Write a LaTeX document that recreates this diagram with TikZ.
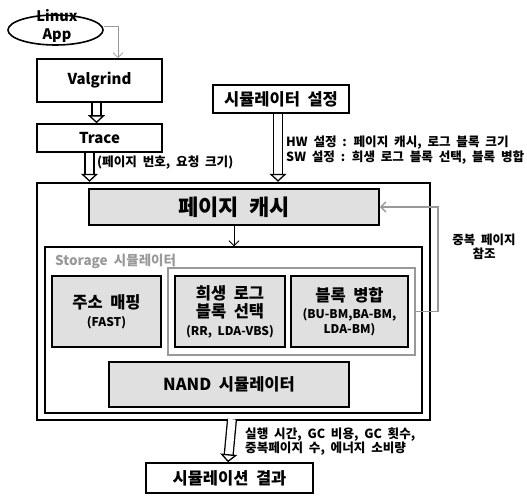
\documentclass[tikz,border=0pt]{standalone}
\usepackage{fontspec}
\setmainfont{Noto Sans CJK KR}[WordSpace=2]
\usepackage{tikz}
\usetikzlibrary{
    arrows.meta,
    shapes.geometric
}
\definecolor{boxgray}{HTML}{E0E0E0}
\definecolor{linegray}{HTML}{999999}

\begin{document}
\begin{tikzpicture}[
        x=1pt, y=-1pt,
        >={Straight Barb[length=5pt, width=10pt]},
        box/.style={
            rectangle,
            draw,
            line width=1.6pt,
            inner sep=0pt,
            align=center,
            font=\bfseries\fontsize{16.5}{18}\selectfont
        },
        graybox/.style={
            box,
            fill=boxgray
        },
        latin/.style={
            font=\bfseries\fontsize{15}{18}\selectfont
        },
        dblarrow/.style={
            double,
            double distance=7.5pt,
            line width=1.3pt,
            -{Triangle[open, width=17pt, length=8pt, fill=white, line width=1.3pt]}
        },
        note/.style={
            anchor=west,
            align=left,
            inner sep=0pt,
            font=\bfseries\fontsize{12.6}{12}\selectfont
        }
    ]
        \useasboundingbox (0,0) rectangle (527,495);

        \node[ellipse, draw, line width=1.6pt, minimum width=95pt, minimum height=30pt, inner sep=0pt] (app) at (55.5,30) {};
        \node[align=center, inner sep=0pt, font=\bfseries\fontsize{14.5}{18}\selectfont] (apptext) at (57,26) {Linux\\App};

        \node[box, latin, minimum width=125pt, minimum height=43pt] (valg) at (99.5,80.5) {Valgrind};
        \node[box, latin, minimum width=125pt, minimum height=28pt] (trace) at (99.5,138) {Trace};
        \node[box, minimum width=136pt, minimum height=28pt] (setting) at (281,99) {시뮬레이터 설정};

        \node[box, line width=2.4pt, minimum width=393pt, minimum height=237pt] (sim) at (233.5,301.5) {};
        \node[graybox, minimum width=290pt, minimum height=36pt, font=\bfseries\fontsize{22}{24}\selectfont] (cache) at (234,207) {페이지 캐시};
        \node[box, line width=1.4pt, minimum width=377pt, minimum height=166pt] (storage) at (233.5,330) {};
        \node[anchor=west, inner sep=0pt, text=linegray, font=\bfseries\fontsize{13.5}{15}\selectfont] (storagelabel) at (55,261) {Storage 시뮬레이터};
        \node[draw=linegray, line width=1.6pt, minimum width=247pt, minimum height=87pt] (grp) at (291.5,311.5) {};

        \node[graybox, minimum width=109pt, minimum height=71pt] (addr) at (106.5,311.5) {주소 매핑\\{\fontsize{12}{14}\selectfont (FAST)}};
        \node[graybox, minimum width=110pt, minimum height=71pt] (victim) at (230,311.5) {희생 로그\\블록 선택\\{\fontsize{12}{14}\selectfont (RR, LDA-VBS)}};
        \node[graybox, minimum width=117pt, minimum height=71pt] (merge) at (349.5,311.5) {블록 병합\\[-1pt]{\fontsize{12}{14}\selectfont (BU-BM,BA-BM,}\\[-3pt]{\fontsize{12}{14}\selectfont LDA-BM)}};
        \node[graybox, minimum width=240pt, minimum height=45pt] (nand) at (229,384.5) {NAND 시뮬레이터};

        \node[box, minimum width=167pt, minimum height=30pt] (result) at (229.5,478) {시뮬레이션 결과};

        \draw[->, linegray, thick] (app.east |- 0,26) -| ([xshift=18.5pt]valg.north);
        \draw[dblarrow] ([xshift=-3pt]valg.south) -- ([xshift=-3pt]trace.north);
        \draw[dblarrow] ([xshift=-10pt]trace.south) -- ([xshift=-10pt]trace.south |- sim.north);
        \draw[dblarrow] ([xshift=-3pt]setting.south) -- ([xshift=-3pt]setting.south |- sim.north);
        \draw[->, thick] (cache.south) -- (cache.south |- storage.north);
        \draw[->, linegray, line width=1.4pt] (grp.east) -- ++(22,0) |- (cache.east);
        \draw[dblarrow] ([xshift=-1.5pt]sim.south |- result.north) ++(0,-43) -- ([xshift=-1.5pt]result.north);

        \node[note] (tracelabel) at (97,163) {(페이지 번호, 요청 크기)};
        \node[note] (settinglabel) at (286,150) {HW 설정 : 페이지 캐시, 로그 블록 크기\\SW 설정 : 희생 로그 블록 선택, 블록 병합};
        \node[note, anchor=center, align=center, font=\bfseries\fontsize{12.5}{14}\selectfont] (duplabel) at (484,247) {중복 페이지\\참조};
        \node[note, font=\bfseries\fontsize{12.6}{13.5}\selectfont] (resultlabel) at (245,441.5) {실행 시간, GC 비용, GC 횟수,\\중복페이지 수, 에너지 소비량};
    \end{tikzpicture}
\end{document}
